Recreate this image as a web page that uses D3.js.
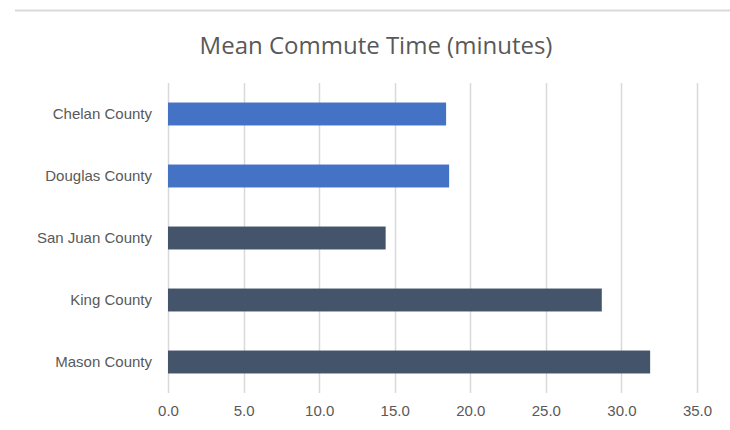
<!DOCTYPE html>
<html>
<head>
<meta charset="utf-8">
<script src="https://cdn.jsdelivr.net/npm/d3@7"></script>
<style>
  html, body { margin: 0; background: #fff; overflow: hidden; }
  svg { display: block; font-family: "Open Sans", "Noto Sans", sans-serif; }
</style>
</head>
<body>
<script>
// chart data
const counties = ["Chelan County", "Douglas County", "San Juan County", "King County", "Mason County"];
const commute = [18.4, 18.6, 14.4, 28.7, 31.9];
const barColors = ["#4472C4", "#4472C4", "#44546A", "#44546A", "#44546A"];
const tickValues = [0, 5, 10, 15, 20, 25, 30, 35];

const width = 730;
const height = 430;
const svg = d3.select("body")
  .append("svg")
  .attr("width", width)
  .attr("height", height);

const margin = {top: 83, right: 33, bottom: 37, left: 168};
const innerWidth = width - margin.left - margin.right;
const innerHeight = height - margin.top - margin.bottom;

// top separator line
svg.append("line")
  .attr("x1", 15).attr("x2", width)
  .attr("y1", 10.5).attr("y2", 10.5)
  .attr("stroke", "#d9d9d9")
  .attr("stroke-width", 2);

svg.append("text")
  .attr("x", 376)
  .attr("y", 54)
  .attr("text-anchor", "middle")
  .attr("fill", "#595959")
  .style("font-size", "24px")
  .text("Mean Commute Time (minutes)");

const xScale = d3.scaleLinear()
  .domain([0, 35])
  .range([0, innerWidth]);

const yScale = d3.scaleBand()
  .domain(counties)
  .range([0, innerHeight])
  .paddingInner(0.63)
  .paddingOuter(0.315);

const g = svg.append("g")
  .attr("transform", `translate(${margin.left},${margin.top})`);

// gridlines
g.selectAll("line.grid").data(tickValues)
  .enter().append("line")
  .attr("class", "grid")
  .attr("x1", d => Math.round(xScale(d)) + 0.5)
  .attr("x2", d => Math.round(xScale(d)) + 0.5)
  .attr("y1", 0)
  .attr("y2", innerHeight)
  .attr("stroke", "#d9d9d9")
  .attr("stroke-width", 1.5);

g.selectAll("rect").data(counties)
  .enter().append("rect")
  .attr("x", 0)
  .attr("y", d => yScale(d))
  .attr("width", (d, i) => xScale(commute[i]))
  .attr("height", yScale.bandwidth())
  .attr("fill", (d, i) => barColors[i]);

// x axis labels
const xAxis = d3.axisBottom(xScale)
  .tickValues(tickValues)
  .tickSize(0)
  .tickPadding(12)
  .tickFormat(d3.format(".1f"));

const xg = g.append("g")
  .attr("transform", `translate(0,${innerHeight})`)
  .call(xAxis);
xg.select(".domain").remove();
xg.selectAll("text")
  .attr("fill", "#595959")
  .style("font-size", "15px");

// y axis labels
const yAxis = d3.axisLeft(yScale)
  .tickSize(0)
  .tickPadding(16);
const yg = g.append("g").call(yAxis);
yg.select(".domain").remove();
yg.selectAll("text")
  .attr("fill", "#595959")
  .style("font-size", "15px");
</script>
</body>
</html>
